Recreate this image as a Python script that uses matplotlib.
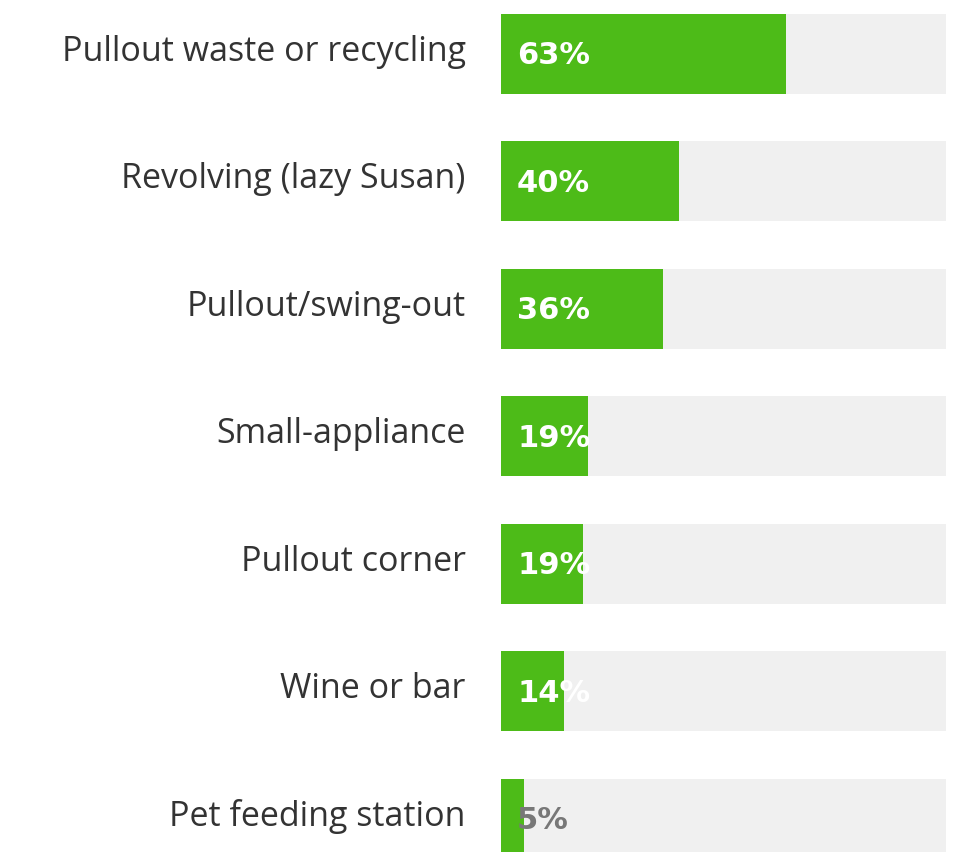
import matplotlib
matplotlib.use("Agg")
import matplotlib.pyplot as plt

categories = ["Pullout waste or recycling", "Revolving (lazy Susan)", "Pullout/swing-out",
              "Small-appliance", "Pullout corner", "Wine or bar", "Pet feeding station"]
values = [64, 40, 36.4, 19.6, 18.4, 14.2, 5.2]
value_labels = ["63%", "40%", "36%", "19%", "19%", "14%", "5%"]

GREEN = "#4dbb18"
TRACK = "#f0f0f0"

fig = plt.figure(figsize=(9.64, 8.53), dpi=100)
fig.patch.set_facecolor("white")
ax = fig.add_axes([501 / 964, 0, 445 / 964, 1])
ax.set_xlim(0, 100)
ax.set_ylim(6 + 33.5 / 127.5, -54.5 / 127.5)
ax.axis("off")

ys = list(range(len(categories)))
h = 80 / 127.5
ax.barh(ys, [100] * len(ys), height=h, color=TRACK, zorder=1)
ax.barh(ys, values, height=h, color=GREEN, zorder=2)

for y, cat, lab in zip(ys, categories, value_labels):
    ax.text(-7.9, y - 0.02, cat, ha="right", va="center", fontsize=24.5,
            family="Open Sans", color="#333333", clip_on=False)
    col = "#777777" if lab == "5%" else "white"
    ax.text(3.6, y + 0.01, lab, ha="left", va="center", fontsize=22, fontweight="bold",
            family="DejaVu Sans", color=col, zorder=3)

fig.savefig("out.png", dpi=100, facecolor="white")
